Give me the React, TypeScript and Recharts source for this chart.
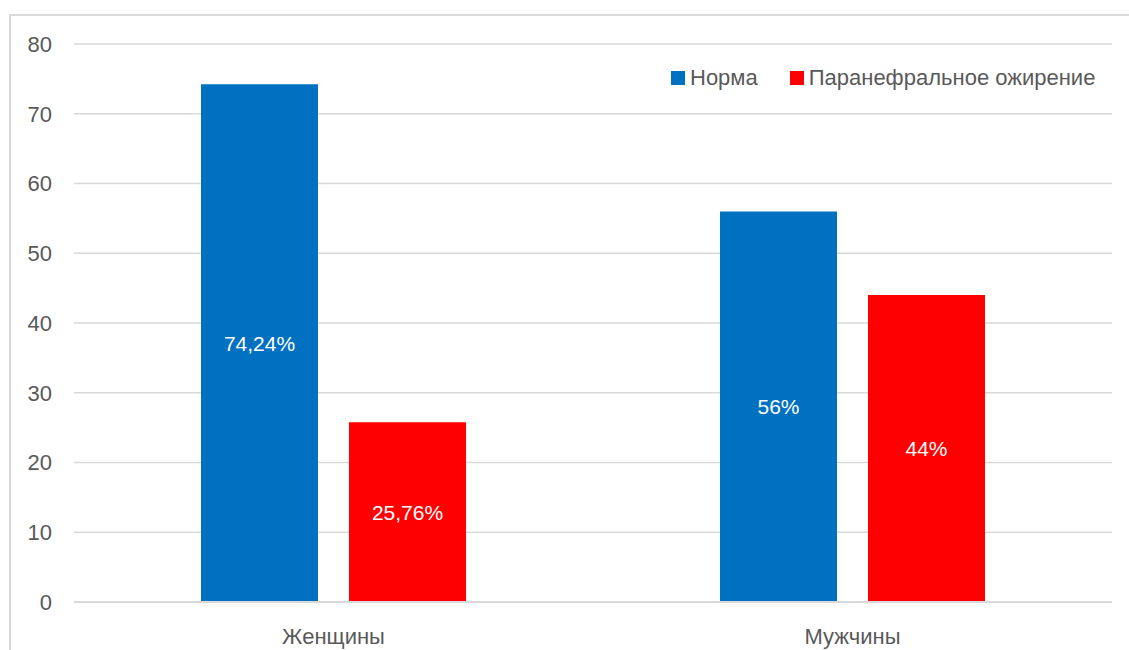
import { BarChart, Bar, XAxis, YAxis, CartesianGrid, LabelList } from 'recharts';

const categories = ['Женщины', 'Мужчины'];
const normValues = [74.24, 56];
const obesityValues = [25.76, 44];
const normLabels = ['74,24%', '56%'];
const obesityLabels = ['25,76%', '44%'];
const yTicks = [0, 10, 20, 30, 40, 50, 60, 70, 80];

const seriesNames = ['Норма', 'Паранефральное ожирение'];
const seriesColors = ['#0070C0', '#FF0000'];

const chartData = categories.map((name, i) => ({
  name,
  norm: normValues[i],
  obesity: obesityValues[i],
  normLabel: normLabels[i],
  obesityLabel: obesityLabels[i],
}));

const font = '"Liberation Sans", Arial, sans-serif';

// legend drawn as plain html over the chart, recharts' Legend would push the plot down
function ChartLegend() {
  return (
    <div
      style={{
        position: 'absolute',
        left: 671,
        top: 65,
        display: 'flex',
        alignItems: 'center',
        fontFamily: font,
        fontSize: 22,
        color: '#595959',
        whiteSpace: 'nowrap',
      }}
    >
      {seriesNames.map((name, i) => (
        <div key={name} style={{ display: 'flex', alignItems: 'center', marginRight: i === 0 ? 32 : 0 }}>
          <span style={{ width: 14, height: 14, background: seriesColors[i], marginRight: 5 }} />
          <span>{name}</span>
        </div>
      ))}
    </div>
  );
}

export default function App() {
  return (
    <div style={{ position: 'absolute', left: 0, top: 0, width: 1129, height: 650, background: '#fff', overflow: 'hidden' }}>
      <div
        style={{
          position: 'absolute',
          left: 9,
          top: 14,
          width: 1200,
          height: 700,
          borderTop: '2px solid #D9D9D9',
          borderLeft: '2px solid #D9D9D9',
        }}
      />
      <BarChart
        width={1129}
        height={650}
        data={chartData}
        margin={{ top: 44, right: 17, bottom: 0, left: 0 }}
        barSize={117}
        barGap={31}
        style={{ position: 'absolute', left: 0, top: 0 }}
      >
        <CartesianGrid vertical={false} stroke="#D9D9D9" strokeWidth={1.5} />
        <XAxis
          dataKey="name"
          height={48}
          axisLine={{ stroke: '#D9D9D9', strokeWidth: 2 }}
          tickLine={false}
          tickSize={0}
          tickMargin={26}
          tick={{ fill: '#595959', fontSize: 22, fontFamily: font }}
        />
        <YAxis
          width={74}
          domain={[0, 80]}
          ticks={yTicks}
          axisLine={false}
          tickLine={false}
          tickSize={0}
          tickMargin={22}
          tick={{ fill: '#595959', fontSize: 22, fontFamily: font }}
        />
        <Bar dataKey="norm" name={seriesNames[0]} fill={seriesColors[0]} isAnimationActive={false}>
          <LabelList dataKey="normLabel" position="center" fill="#fff" fontSize={21} fontFamily={font} />
        </Bar>
        <Bar dataKey="obesity" name={seriesNames[1]} fill={seriesColors[1]} isAnimationActive={false}>
          <LabelList dataKey="obesityLabel" position="center" fill="#fff" fontSize={21} fontFamily={font} />
        </Bar>
      </BarChart>
      <ChartLegend />
    </div>
  );
}
